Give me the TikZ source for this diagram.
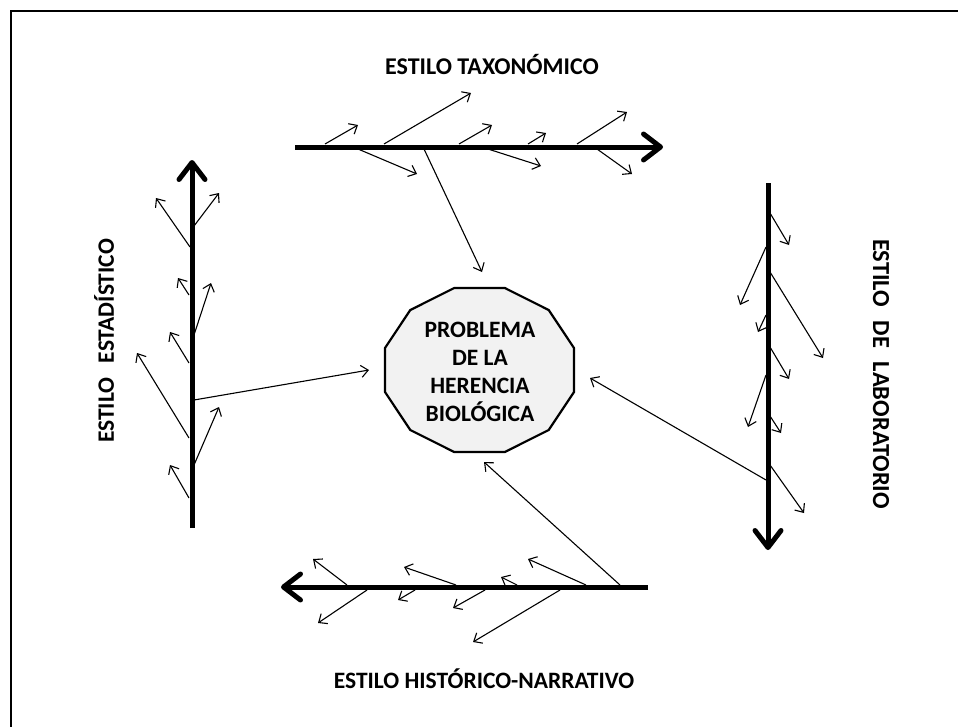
\documentclass[tikz,border=0pt]{standalone}
\usepackage{fontspec}
\setmainfont{Carlito}
\usetikzlibrary{arrows.meta}
\begin{document}
\begin{tikzpicture}[x=1pt,y=-1pt,
  br/.style={line width=1.1pt, -{Straight Barb[length=7pt,width=12pt]}},
  mainarr/.style={line width=5pt, -{Straight Barb[length=17pt,width=26pt,round]}},
  lbl/.style={font=\fontsize{23.5}{28}\selectfont\bfseries, inner sep=0pt, anchor=center},
]
\useasboundingbox (0,0) rectangle (958,726);
% frame (only left and top edges visible)
\coordinate (fbl) at (11,727);
\coordinate (ftl) at (11,11);
\coordinate (ftr) at (959,11);
\draw[line width=2.5pt] (fbl) -- (ftl) -- (ftr);

% central polygon (dodecagon)
\draw[line width=2.2pt, fill=black!5, line join=miter]
  (574,348) -- (574,392) -- (548.7,430) -- (504.8,452) -- (454.2,452) -- (410.3,430)
  -- (385,392) -- (385,348) -- (410.3,310) -- (454.2,288) -- (504.8,288) -- (548.7,310)
  -- cycle;
\node[lbl, align=center] (prob) at (480,372)
  {PROBLEMA\\DE LA\\HERENCIA\\BIOLÓGICA};

% main arrows
\coordinate (ta) at (295,147); \coordinate (tb) at (663,147);
\coordinate (la) at (192,528); \coordinate (lb) at (192,160);
\coordinate (ra) at (768,183); \coordinate (rb) at (768,550);
\coordinate (ba) at (648,587); \coordinate (bb) at (281,587);
\draw[mainarr] (ta) -- (tb);
\draw[mainarr] (la) -- (lb);
\draw[mainarr] (ra) -- (rb);
\draw[mainarr] (ba) -- (bb);

% branches
\foreach \n/\a/\b/\c/\d in {
  t1/325/144/358/125, t2/358/149/417/174, t3/384/144/471/93, t4/424/149/482/272,
  t5/459/144/492/125, t6/488/149/541/166, t7/528/144/546/133, t8/577/144/627/112,
  t9/597/149/632/174,
  l1/190/247/156/198, l2/194/226/219/193, l3/189/295/178/278, l4/194/335/211/283,
  l5/189/363/170/332, l6/194/400/369/370, l7/189/438/137/353, l8/194/465/219/407,
  l9/189/498/170/465,
  r1/770/213/789/245, r2/766/247/740/305, r3/770/272/823/358, r4/766/315/758/332,
  r5/770/347/789/379, r6/766/375/748/427, r7/770/416/781/433, r8/766/480/590/378,
  r9/770/465/804/513,
  b1/620/585/484/462, b2/586/585/528/559, b3/560/590/473/642, b4/517/585/501/577,
  b5/485/590/453/608, b6/456/585/404/567, b7/415/590/398/600, b8/347/585/313/559,
  b9/367/590/318/623}{
  \coordinate (\n s) at (\a,\b);
  \coordinate (\n e) at (\c,\d);
  \draw[br] (\n s) -- (\n e);
}

% labels
\node[lbl, font=\fontsize{24}{28}\selectfont\bfseries] (ltax) at (492,65) {ESTILO TAXONÓMICO};
\node[lbl] (lhist) at (484,679) {ESTILO HISTÓRICO-NARRATIVO};
\node[lbl, rotate=90] (lest) at (104,341) {ESTILO\hspace{9pt} ESTADÍSTICO};
\node[lbl, rotate=-90, font=\fontsize{24.5}{28}\selectfont\bfseries] (llab) at (881,374) {ESTILO\hspace{8pt} DE\hspace{8pt} LABORATORIO};
\end{tikzpicture}
\end{document}
